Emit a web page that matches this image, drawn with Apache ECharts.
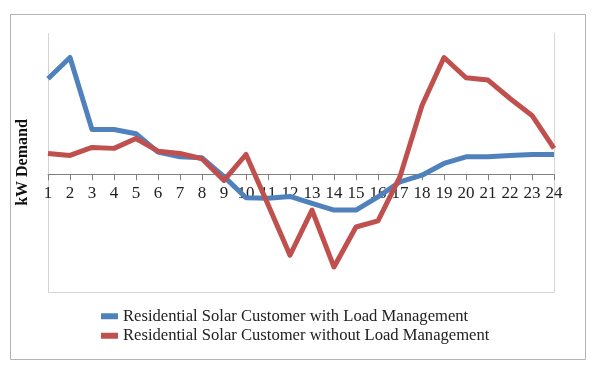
<!DOCTYPE html>
<html>
<head>
<meta charset="utf-8">
<script src="https://cdn.jsdelivr.net/npm/echarts@6/dist/echarts.min.js"></script>
<style>
html,body{margin:0;padding:0;background:#fff;}
#c{width:596px;height:372px;}
</style>
</head>
<body>
<div id="c"></div>
<script>
var hours = ['1','2','3','4','5','6','7','8','9','10','11','12','13','14','15','16','17','18','19','20','21','22','23','24'];
var withLM = [2.03,2.48,0.95,0.95,0.86,0.47,0.37,0.35,-0.05,-0.50,-0.51,-0.47,-0.62,-0.76,-0.76,-0.48,-0.16,-0.02,0.23,0.37,0.37,0.40,0.42,0.42];
var withoutLM = [0.44,0.40,0.57,0.55,0.76,0.49,0.44,0.33,-0.13,0.42,-0.64,-1.72,-0.76,-1.97,-1.12,-0.99,-0.05,1.46,2.48,2.05,2.00,1.61,1.25,0.55];
var seriesNames = ['Residential Solar Customer with Load Management','Residential Solar Customer without Load Management'];
var yTitle = 'kW Demand';
var yMin = -2.5, yMax = 3;

var chart = echarts.init(document.getElementById('c'), null, {renderer:'canvas'});
var serif = '"Liberation Serif", "DejaVu Serif", serif';
var G = {left:48, right:42, top:33, bottom:80, W:596, H:372};
var plotH = G.H - G.top - G.bottom;
var zeroOffset = -(0 - yMin) / (yMax - yMin) * plotH;
chart.setOption({
  animation:false,
  backgroundColor:'#fff',
  graphic:[
    {type:'rect', shape:{x:10.5,y:14.5,width:575,height:345}, style:{fill:'none', stroke:'#b3b3b3', lineWidth:1}, z:-1},
    {type:'polyline', shape:{points:[[G.left+0.5,G.top],[G.left+0.5,G.H-G.bottom+0.5],[G.W-G.right+0.5,G.H-G.bottom+0.5],[G.W-G.right+0.5,G.top]]},
     style:{fill:'none', stroke:'#d4d4d4', lineWidth:1}, z:-1}
  ],
  grid:{left:G.left, right:G.right, top:G.top, bottom:G.bottom},
  legend:{
    orient:'vertical', left:96, top:302, itemWidth:17, itemHeight:6, itemGap:1,
    icon:'rect',
    textStyle:{fontFamily:serif, fontSize:16.6, color:'#222', lineHeight:18.5},
    data:seriesNames
  },
  xAxis:{
    type:'category', data:hours, boundaryGap:false, position:'bottom', offset:zeroOffset,
    axisLine:{onZero:false, lineStyle:{color:'#808080', width:1}},
    axisTick:{show:true, inside:false, length:6, interval:0, lineStyle:{color:'#808080'}},
    axisLabel:{fontFamily:serif, fontSize:17, color:'#222', margin:11, interval:0},
    splitLine:{show:false}
  },
  yAxis:{
    type:'value', min:yMin, max:yMax,
    name:yTitle, nameLocation:'middle', nameGap:17, nameRotate:90,
    nameTextStyle:{fontFamily:serif, fontSize:16, fontWeight:'bold', color:'#111'},
    axisLine:{show:false}, axisTick:{show:false}, axisLabel:{show:false}, splitLine:{show:false}
  },
  series:[
    {name:seriesNames[0], type:'line', data:withLM, showSymbol:false, symbol:'none',
     lineStyle:{color:'#4F81BD', width:5, join:'round'}, itemStyle:{color:'#4F81BD'}, z:3},
    {name:seriesNames[1], type:'line', data:withoutLM, showSymbol:false, symbol:'none',
     lineStyle:{color:'#C0504D', width:5, join:'round'}, itemStyle:{color:'#C0504D'}, z:4}
  ]
});
</script>
</body>
</html>
